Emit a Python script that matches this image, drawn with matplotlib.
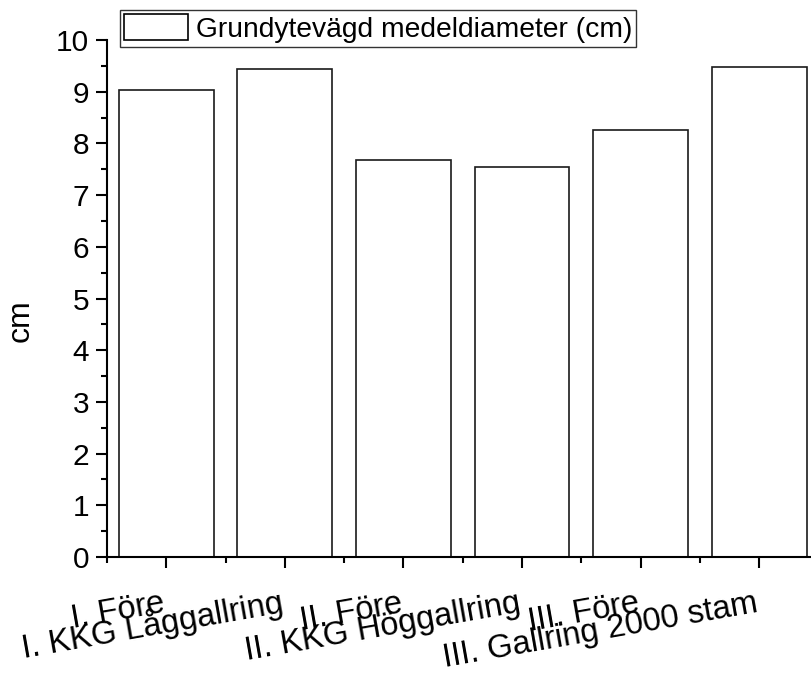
import matplotlib
matplotlib.use("Agg")
import matplotlib.pyplot as plt
from matplotlib.ticker import MultipleLocator, FixedLocator

plt.rcParams['font.family'] = ['Liberation Sans', 'DejaVu Sans']

categories = ["I. Före", "I. KKG Låggallring", "II. Före",
              "II. KKG Höggallring", "III. Före", "III. Gallring 2000 stam"]
values = [9.03, 9.44, 7.68, 7.54, 8.25, 9.47]
series_name = "Grundytevägd medeldiameter (cm)"
y_label = "cm"

W, H = 812, 687
fig = plt.figure(figsize=(W / 100, H / 100), dpi=100)
ax = fig.add_axes([107 / W, 130 / H, 711.5 / W, 517 / H])

positions = list(range(1, len(categories) + 1))
ax.bar(positions, values, width=0.8, facecolor='white', edgecolor='#1a1a1a',
       linewidth=1.2, label=series_name)

ax.set_xlim(0.5, 6.5)
ax.set_ylim(0, 10)

for s in ('top', 'right'):
    ax.spines[s].set_visible(False)
for s in ('left', 'bottom'):
    ax.spines[s].set_linewidth(1.5)
    ax.spines[s].set_color('black')

ax.yaxis.set_major_locator(MultipleLocator(1))
ax.yaxis.set_minor_locator(MultipleLocator(0.5))
ax.xaxis.set_major_locator(FixedLocator(positions))
ax.xaxis.set_minor_locator(FixedLocator([p - 0.5 for p in positions] + [6.5]))

ax.tick_params(axis='both', which='major', direction='out', length=7.9, width=1.5,
               color='black')
ax.tick_params(axis='both', which='minor', direction='out', length=4.6, width=1.5,
               color='black')
ax.tick_params(axis='y', which='major', labelsize=21.5, pad=5)
ax.tick_params(axis='x', which='major', labelsize=23.5, pad=31.7)

ax.set_xticks(positions)
ax.set_xticklabels(categories, rotation=10, ha='right', va='baseline',
                   rotation_mode='anchor')

ax.set_ylabel(y_label, fontsize=23, va='center', ha='center')
ax.yaxis.set_label_coords((21 - 107) / 711.5, (557 - 321) / 517)

leg = ax.legend(loc='upper left', bbox_to_anchor=(120 / W, 1 - 10 / H),
                bbox_transform=fig.transFigure, borderaxespad=0,
                fontsize=20.3, frameon=True, fancybox=False, framealpha=1,
                edgecolor='#333333', handlelength=2.25, handleheight=1.05,
                handletextpad=0.29, borderpad=0.15)
leg.get_frame().set_linewidth(1.0)
for h in leg.legend_handles:
    h.set_edgecolor('black')
    h.set_linewidth(1.2)

fig.savefig("out.png", dpi=100)
